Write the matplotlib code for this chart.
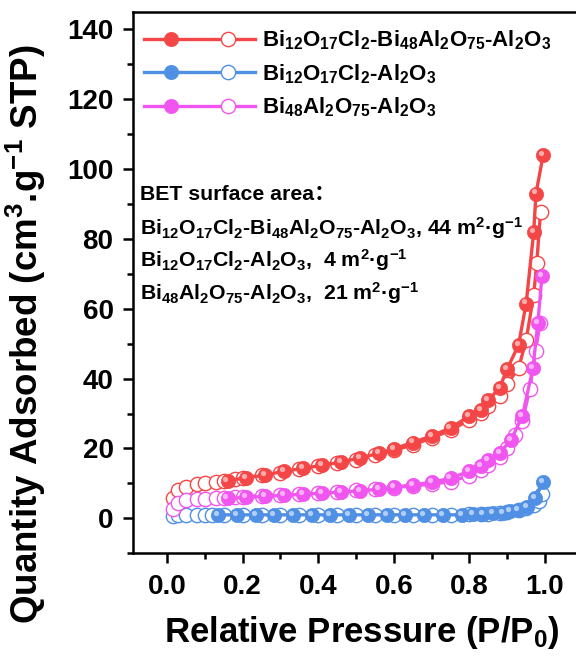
import numpy as np
import matplotlib
matplotlib.use("Agg")
import matplotlib.pyplot as plt
import matplotlib.transforms as mtransforms
from matplotlib.legend_handler import HandlerTuple
from matplotlib.ticker import MultipleLocator

# ==============================
# DATA
# ==============================

# Bi12O17Cl2-Bi48Al2O75-Al2O3  (red)
red_ads_x = [0.16, 0.21, 0.26, 0.31, 0.36, 0.41, 0.46, 0.51, 0.56, 0.60, 0.65, 0.70,
             0.75, 0.80, 0.83, 0.85, 0.88, 0.90, 0.93, 0.95, 0.97, 0.976, 0.995]
red_ads_y = [10.8, 11.6, 12.4, 13.5, 14.3, 15.2, 16.1, 17.3, 18.6, 19.9, 21.7, 23.6,
             25.9, 29.3, 30.9, 33.8, 37.4, 42.8, 49.7, 61.5, 82.0, 93.0, 104.0]
red_des_x = [0.015, 0.03, 0.05, 0.08, 0.10, 0.13, 0.15, 0.18, 0.20, 0.25, 0.30, 0.35,
             0.40, 0.45, 0.50, 0.55, 0.60, 0.65, 0.70, 0.75, 0.80, 0.83, 0.85, 0.88,
             0.90, 0.93, 0.95, 0.97, 0.978, 0.988]
red_des_y = [5.7, 8.0, 9.0, 9.8, 10.0, 10.3, 10.6, 11.2, 11.6, 12.3, 13.1, 14.0,
             15.0, 15.8, 16.8, 18.0, 19.5, 21.0, 23.0, 25.2, 28.2, 30.2, 32.2, 35.0,
             38.5, 43.0, 51.0, 64.0, 73.0, 87.6]

# Bi12O17Cl2-Al2O3  (blue)
blue_ads_x = [0.135, 0.185, 0.235, 0.283, 0.333, 0.384, 0.431, 0.481, 0.532, 0.582,
              0.63, 0.68, 0.73, 0.78, 0.81, 0.836, 0.862, 0.889, 0.907, 0.929, 0.952,
              0.974, 0.995]
blue_ads_y = [1.0, 1.0, 1.0, 1.0, 1.0, 1.0, 1.0, 1.0, 1.0, 1.0,
              1.0, 1.0, 1.0, 1.0, 1.1, 1.2, 1.4, 1.6, 2.0, 2.5, 3.3,
              5.8, 10.3]
blue_des_x = [0.015, 0.03, 0.05, 0.08, 0.10, 0.12, 0.15, 0.20, 0.25, 0.30, 0.35, 0.40,
              0.45, 0.50, 0.55, 0.60, 0.65, 0.70, 0.75, 0.80, 0.83, 0.85, 0.88, 0.90,
              0.93, 0.95, 0.97, 0.985, 0.992]
blue_des_y = [0.8, 0.9, 0.9, 1.0, 1.0, 1.0, 1.0, 1.0, 1.0, 1.0, 1.0, 1.0,
              1.0, 1.0, 1.0, 1.0, 1.0, 1.0, 1.0, 1.1, 1.2, 1.3, 1.5, 1.8,
              2.3, 3.0, 3.8, 5.0, 7.0]

# Bi48Al2O75-Al2O3  (pink)
pink_ads_x = [0.16, 0.21, 0.26, 0.31, 0.36, 0.41, 0.46, 0.51, 0.56, 0.60, 0.65, 0.70,
              0.75, 0.80, 0.83, 0.85, 0.88, 0.91, 0.94, 0.968, 0.981, 0.992]
pink_ads_y = [5.7, 6.0, 6.3, 6.6, 6.9, 7.2, 7.5, 7.9, 8.3, 8.9, 9.6, 10.3,
              11.5, 13.5, 15.0, 16.7, 18.8, 22.4, 29.3, 43.0, 56.0, 69.5]
pink_des_x = [0.015, 0.03, 0.05, 0.08, 0.10, 0.13, 0.15, 0.18, 0.20, 0.25, 0.30, 0.35,
              0.40, 0.45, 0.50, 0.55, 0.60, 0.65, 0.70, 0.75, 0.80, 0.83, 0.85, 0.88,
              0.90, 0.92, 0.94, 0.96, 0.975, 0.987]
pink_des_y = [2.6, 4.3, 5.2, 5.5, 5.6, 5.7, 5.8, 6.0, 6.2, 6.5, 6.8, 7.0,
              7.3, 7.6, 8.0, 8.4, 8.8, 9.3, 9.8, 10.5, 12.2, 13.8, 15.2, 17.5,
              20.0, 24.0, 28.0, 37.0, 48.0, 56.0]

labels = [r"Bi$_{12}$O$_{17}$Cl$_2$-Bi$_{48}$Al$_2$O$_{75}$-Al$_2$O$_3$",
          r"Bi$_{12}$O$_{17}$Cl$_2$-Al$_2$O$_3$",
          r"Bi$_{48}$Al$_2$O$_{75}$-Al$_2$O$_3$"]
colors = ["#f44646", "#4f8fe4", "#f055ef"]
bet_values = ["44", "4", "21"]

# ==============================
# STYLE
# ==============================
plt.rcParams["font.family"] = ["Liberation Sans", "Noto Sans CJK SC"]
plt.rcParams["font.weight"] = "bold"
plt.rcParams["mathtext.fontset"] = "custom"
plt.rcParams["mathtext.rm"] = "Liberation Sans:bold"
plt.rcParams["mathtext.it"] = "Liberation Sans:bold"
plt.rcParams["mathtext.bf"] = "Liberation Sans:bold"
plt.rcParams["mathtext.default"] = "rm"

fig = plt.figure(figsize=(5.76, 6.61), dpi=100)
ax = fig.add_axes([0.231, 0.163, 0.794, 0.819])

series = [(red_ads_x, red_ads_y, red_des_x, red_des_y),
          (blue_ads_x, blue_ads_y, blue_des_x, blue_des_y),
          (pink_ads_x, pink_ads_y, pink_des_x, pink_des_y)]

hl_trans = mtransforms.offset_copy(ax.transData, fig=fig, x=-1.5, y=1.5, units="points")


def lighten(c, f=0.55):
    rgb = np.array(matplotlib.colors.to_rgb(c))
    return tuple(rgb + (1 - rgb) * f)


handles = []
for (ax_x, ax_y, dx, dy), col in zip(series, colors):
    h_open, = ax.plot(dx, dy, "-", color=col, lw=2.4, marker="o", ms=10.3,
                      mfc="white", mec=col, mew=1.0, zorder=2)
    h_fill, = ax.plot(ax_x, ax_y, "-", color=col, lw=2.4, marker="o", ms=10.3,
                      mfc=col, mec=col, mew=0.5, zorder=3)
    # little highlight to mimic the shaded balls
    ax.plot(ax_x, ax_y, "o", ms=3.8, mfc=lighten(col), mec="none", zorder=4,
            transform=hl_trans)
    handles.append((h_fill, h_open))

leg = ax.legend(handles, labels, handler_map={tuple: HandlerTuple(ndivide=None, pad=0.15)},
                loc="upper left", bbox_to_anchor=(-0.012, 1.0), frameon=False,
                fontsize=16, handlelength=5.0, handletextpad=0.3, labelspacing=0.45,
                borderaxespad=0.35)

# BET text
ax.text(0.015, 0.662, "BET surface area：", transform=ax.transAxes, fontsize=15.3,
        fontweight="bold", va="center")
for i, (lab, val) in enumerate(zip(labels, bet_values)):
    sep = ", " if i == 0 else ",  "
    ax.text(0.015, 0.601 - i * 0.06, lab + sep + val + r" m$^2$·g$^{-1}$",
            transform=ax.transAxes, fontsize=15.3, fontweight="bold", va="center")

ax.set_xlim(-0.09, 1.12)
ax.set_ylim(-10, 145)
ax.xaxis.set_minor_locator(MultipleLocator(0.1))
ax.yaxis.set_minor_locator(MultipleLocator(10))
ax.set_xticks(np.arange(0, 1.01, 0.2))
ax.set_xticklabels([f"{v:.1f}" for v in np.arange(0, 1.01, 0.2)])
ax.set_yticks(np.arange(0, 141, 20))

ax.tick_params(which="major", direction="out", length=7, width=1.8, labelsize=20, pad=8)
ax.tick_params(which="minor", direction="out", length=4, width=1.8)
ax.tick_params(axis="y", pad=7)
for lbl in ax.get_xticklabels() + ax.get_yticklabels():
    lbl.set_fontweight("bold")
for sp in ax.spines.values():
    sp.set_linewidth(1.8)

ax.set_xlabel(r"Relative Pressure (P/P$_0$)", fontsize=25, fontweight="bold", labelpad=10)
ax.set_ylabel(r"Quantity Adsorbed (cm$^3$.g$^{-1}$ STP)", fontsize=26.5, fontweight="bold")
ax.yaxis.set_label_coords(-0.185, 0.405)
ax.yaxis.label.set_va("bottom")

fig.savefig("out.png", dpi=100)
